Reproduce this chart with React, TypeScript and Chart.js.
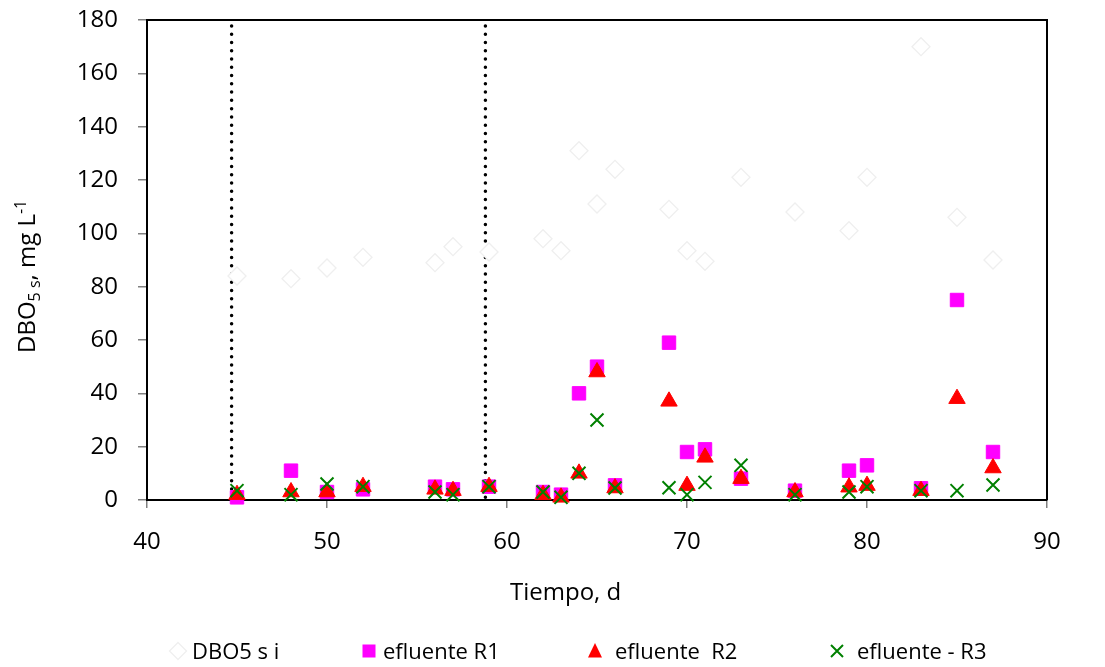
import React, { useEffect, useRef } from "react";
import { Chart, registerables } from "chart.js";

Chart.register(...registerables);

// ---- data ----
const days = [45, 48, 50, 52, 56, 57, 59, 62, 63, 64, 65, 66, 69, 70, 71, 73, 76, 79, 80, 83, 85, 87];
const dboInfluent = [84, 83, 87, 91, 89, 95, 93, 98, 93.5, 131, 111, 124, 109, 93.5, 89.5, 121, 108, 101, 121, 170, 106, 90];
const effluentR1 = [1, 11, 3, 4, 5, 4, 5, 3, 2, 40, 50, 5.5, 59, 18, 19, 8, 3.5, 11, 13, 4.4, 75, 18];
const effluentR2 = [2, 3, 3, 5, 4, 3.5, 5, 2, 1, 10, 48, 4.5, 37, 5.4, 16, 8, 3, 4.8, 5.4, 3.5, 38, 12];
const effluentR3 = [3.5, 2, 6, 5, 3, 2, 5, 3, 1, 10, 30, 4.5, 4.6, 2, 6.6, 13, 2, 3, 5, 3.5, 3.5, 5.6];

const phaseDays = [44.7, 58.8];
const phaseRange = [1, 178];

const seriesLabels = ["DBO5 s i", "efluente R1", "efluente  R2", "efluente - R3"];
const xTicks = { min: 40, max: 90, step: 10 };
const yTicks = { min: 0, max: 180, step: 20 };
const xTitle = "Tiempo, d";
const yTitleParts = [
  { text: "DBO", kind: "normal" },
  { text: "5 s", kind: "sub" },
  { text: ", mg L", kind: "normal" },
  { text: "-1", kind: "sup" },
];

const FONT = "'Open Sans', sans-serif";
const PINK = "#FF00FF";
const RED = "#FF0000";
const GREEN = "#008000";
const DIAMOND = "#efefef";

function drawMarker(ctx: CanvasRenderingContext2D, kind: string, cx: number, cy: number) {
  ctx.save();
  ctx.beginPath();
  if (kind === "diamond") {
    const r = 8.5;
    ctx.moveTo(cx, cy - r);
    ctx.lineTo(cx + r, cy);
    ctx.lineTo(cx, cy + r);
    ctx.lineTo(cx - r, cy);
    ctx.closePath();
    ctx.fillStyle = "#fff";
    ctx.fill();
    ctx.strokeStyle = DIAMOND;
    ctx.lineWidth = 1.3;
    ctx.stroke();
  } else if (kind === "square") {
    ctx.fillStyle = PINK;
    ctx.fillRect(cx - 6.5, cy - 6.5, 13, 13);
  } else if (kind === "triangle") {
    ctx.moveTo(cx, cy - 8);
    ctx.lineTo(cx + 7, cy + 6.5);
    ctx.lineTo(cx - 7, cy + 6.5);
    ctx.closePath();
    ctx.fillStyle = RED;
    ctx.fill();
  } else {
    const h = 6;
    ctx.moveTo(cx - h, cy - h);
    ctx.lineTo(cx + h, cy + h);
    ctx.moveTo(cx + h, cy - h);
    ctx.lineTo(cx - h, cy + h);
    ctx.strokeStyle = GREEN;
    ctx.lineWidth = 2;
    ctx.stroke();
  }
  ctx.restore();
}

const decor = {
  id: "decor",
  afterDraw(chart: any) {
    const { ctx, chartArea: a } = chart;
    ctx.save();
    // top and right frame
    ctx.strokeStyle = "#000";
    ctx.lineWidth = 2;
    ctx.beginPath();
    ctx.moveTo(a.left, a.top);
    ctx.lineTo(a.right, a.top);
    ctx.lineTo(a.right, a.bottom);
    ctx.stroke();

    // x title
    ctx.fillStyle = "#000";
    ctx.font = `24px ${FONT}`;
    ctx.textAlign = "left";
    ctx.textBaseline = "alphabetic";
    ctx.fillText(xTitle, 510, 600);

    // y title (rotated, with sub/superscript)
    ctx.save();
    ctx.translate(35, 353);
    ctx.rotate(-Math.PI / 2);
    let x = 0;
    for (const p of yTitleParts) {
      const size = p.kind === "normal" ? 24 : 16;
      const dy = p.kind === "sub" ? 5 : p.kind === "sup" ? -9 : 0;
      ctx.font = `${size}px ${FONT}`;
      ctx.fillText(p.text, x, dy);
      x += ctx.measureText(p.text).width;
    }
    ctx.restore();

    // legend
    const kinds = ["diamond", "square", "triangle", "cross"];
    const markerX = [178, 369, 595, 837];
    const textX = [192, 383, 615, 857];
    const ly = 651;
    ctx.font = `22px ${FONT}`;
    ctx.fillStyle = "#000";
    for (let i = 0; i < kinds.length; i++) {
      drawMarker(ctx, kinds[i], markerX[i], ly);
      ctx.fillStyle = "#000";
      ctx.fillText(seriesLabels[i], textX[i], ly + 8);
    }
    ctx.restore();
  },
};

export default function App() {
  const ref = useRef<HTMLCanvasElement>(null);

  useEffect(() => {
    if (!ref.current) return;
    const pts = (ys: number[]) => days.map((d, i) => ({ x: d, y: ys[i] }));
    const phaseSets = phaseDays.map((d) => ({
      label: "phase",
      data: phaseRange.map((v) => ({ x: d, y: v })),
      showLine: true,
      borderColor: "#000",
      borderWidth: 3.5,
      borderDash: [0, 8.27],
      borderCapStyle: "round",
      pointRadius: 0,
      order: 4,
      clip: false,
    }));

    const chart = new Chart(ref.current, {
      type: "scatter",
      data: {
        datasets: [
          {
            label: seriesLabels[0],
            data: pts(dboInfluent),
            pointStyle: "rectRot",
            pointRadius: 9,
            backgroundColor: "#ffffff",
            borderColor: DIAMOND,
            borderWidth: 1.3,
            order: 3,
            clip: false,
          },
          {
            label: seriesLabels[1],
            data: pts(effluentR1),
            pointStyle: "rect",
            pointRadius: 9.5,
            backgroundColor: PINK,
            borderColor: PINK,
            borderWidth: 1,
            order: 2,
            clip: false,
          },
          {
            label: seriesLabels[2],
            data: pts(effluentR2),
            pointStyle: "triangle",
            pointRadius: 9.5,
            backgroundColor: RED,
            borderColor: RED,
            borderWidth: 1,
            order: 1,
            clip: false,
          },
          {
            label: seriesLabels[3],
            data: pts(effluentR3),
            pointStyle: "crossRot",
            pointRadius: 9.2,
            backgroundColor: GREEN,
            borderColor: GREEN,
            borderWidth: 2,
            order: 0,
            clip: false,
          },
          ...phaseSets,
        ] as any,
      },
      options: {
        responsive: false,
        animation: false,
        events: [],
        layout: { padding: { left: 0, top: 20, right: 58, bottom: 0 } },
        plugins: {
          legend: { display: false },
          tooltip: { enabled: false },
        },
        scales: {
          x: {
            type: "linear",
            min: xTicks.min,
            max: xTicks.max,
            ticks: {
              stepSize: xTicks.step,
              font: { family: FONT, size: 24 },
              color: "#000",
              padding: 20,
            },
            grid: {
              drawOnChartArea: false,
              drawTicks: true,
              tickLength: 8,
              color: "#808080",
              lineWidth: 1.5,
            },
            border: { color: "#000", width: 2 },
            afterFit: (s: any) => {
              s.height = 167;
              s.paddingLeft = 0;
              s.paddingRight = 0;
            },
          },
          y: {
            type: "linear",
            min: yTicks.min,
            max: yTicks.max,
            ticks: {
              stepSize: yTicks.step,
              font: { family: FONT, size: 24 },
              color: "#000",
              padding: 20,
            },
            grid: {
              drawOnChartArea: false,
              drawTicks: true,
              tickLength: 9,
              color: "#808080",
              lineWidth: 1.5,
            },
            border: { color: "#000", width: 2 },
            afterFit: (s: any) => {
              s.width = 147;
              s.paddingTop = 0;
              s.paddingBottom = 0;
            },
          },
        },
      } as any,
      plugins: [decor],
    });
    return () => chart.destroy();
  }, []);

  return (
    <div style={{ position: "absolute", left: 0, top: 0, width: 1105, height: 667, background: "#fff" }}>
      <canvas ref={ref} width={1105} height={667} style={{ display: "block" }} />
    </div>
  );
}
